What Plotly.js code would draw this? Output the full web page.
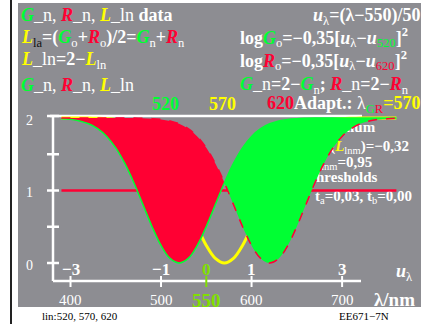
<!DOCTYPE html>
<html>
<head>
<meta charset="utf-8">
<script src="https://cdn.plot.ly/plotly-3.0.1.min.js"></script>
<style>html,body{margin:0;padding:0;background:#fff}#chart{width:424px;height:324px}</style>
</head>
<body>
<div id="chart"></div>
<script>
// wavelength grid (nm) and the three curves
var lam = [390,400,410,420,430,440,450,460,470,480,490,500,510,520,530,540,550,560,570,
           580,590,600,610,620,630,640,650,660,670,680,690,700,710,720,730,740,750,760];
var yG = [1.991,1.981,1.960,1.920,1.853,1.746,1.588,1.373,1.107,0.806,0.504,0.242,0.063,0.000,
          0.063,0.242,0.504,0.806,1.107,1.373,1.588,1.746,1.853,1.920,1.960,1.981,1.991,1.996,
          1.999,2.000,2.000,2.000,2.000,2.000,2.000,2.000,2.000,2.000];
var yR = [2.000,2.000,2.000,2.000,2.000,2.000,2.000,2.000,1.999,1.996,1.991,1.981,1.960,1.920,
          1.853,1.746,1.588,1.373,1.107,0.806,0.504,0.242,0.063,0.000,0.063,0.242,0.504,0.806,
          1.107,1.373,1.588,1.746,1.853,1.920,1.960,1.981,1.991,1.996];
var yL = [2.000,2.000,2.000,1.999,1.996,1.991,1.981,1.960,1.920,1.853,1.746,1.588,1.373,1.107,
          0.806,0.504,0.242,0.063,0.000,0.063,0.242,0.504,0.806,1.107,1.373,1.588,1.746,1.853,
          1.920,1.960,1.981,1.991,1.996,1.999,2.000,2.000,2.000,2.000];
var peaks = [520, 570, 620];
var lamTicks = [400, 500, 550, 600, 700];
var yTicks = [0, 1, 2];
var yMinor = [0.5, 1.5];
var notes = ['<b>Minimum</b>',
             '<b>log(<i><span style="color:#ffff00">L</span></i></b><sub>lnm</sub><b>)=−0,32</b>',
             '<b><i><span style="color:#ffff00">L</span></i></b><sub>lnm</sub><b>=0,95</b>',
             '<b>Thresholds</b>',
             '<b>t</b><sub>a</sub><b>=0,03, t</b><sub>b</sub><b>=0,00</b>'];

var GRN = '#00ff33', RED = '#ff0033', YEL = '#ffff00', LGR = '#80e000', WHT = '#ffffff';
var FONT = 'Liberation Serif, Times New Roman, serif';

// pixel -> data helpers (layout only)
function lx(px) { return 550 + (px - 206.3) / 0.9053; }
function ly(py) { return (263 - py) / 72.5; }
function c(col, s) { return '<span style="color:' + col + '">' + s + '</span>'; }
function bi(s) { return '<b><i>' + s + '</i></b>'; }
function sb(s, col) { return '<sub>' + c(col || WHT, s) + '</sub>'; }

var k = lam.indexOf(peaks[1]);
var lamA = lam.slice(0, k + 1), lamB = lam.slice(k);

var data = [{
    x: [lx(311), lx(311), lx(312), lx(306), lx(315)],
    y: [ly(128), ly(147), ly(163), ly(178), ly(197)],
    text: notes, mode: 'text', textposition: 'middle right',
    textfont: {family: FONT, size: 15, color: WHT}, hoverinfo: 'skip'
},{
    x: [lam[0], lam[lam.length - 1]], y: [1, 1], mode: 'lines',
    line: {color: RED, width: 2.5}, hoverinfo: 'skip'
},{
    x: lam, y: yL, mode: 'lines', line: {color: YEL, width: 3, shape: 'spline'}, hoverinfo: 'skip'
},{
    x: lamA, y: yR.slice(0, k + 1), mode: 'lines', line: {width: 0, shape: 'spline'}, hoverinfo: 'skip'
},{
    x: lamA, y: yG.slice(0, k + 1), mode: 'lines', line: {width: 0, shape: 'spline'},
    fill: 'tonexty', fillcolor: RED, hoverinfo: 'skip'
},{
    x: lamB, y: yG.slice(k), mode: 'lines', line: {width: 0, shape: 'spline'}, hoverinfo: 'skip'
},{
    x: lamB, y: yR.slice(k), mode: 'lines', line: {width: 0, shape: 'spline'},
    fill: 'tonexty', fillcolor: GRN, hoverinfo: 'skip'
},{
    x: lam, y: yG, mode: 'lines', line: {color: GRN, width: 1.5, shape: 'spline'}, hoverinfo: 'skip'
},{
    x: lam, y: yR, mode: 'lines', line: {color: RED, width: 1.5, dash: 'dash', shape: 'spline'}, hoverinfo: 'skip'
}];

var shapes = [
    {type: 'rect', xref: 'paper', yref: 'paper', x0: 18/424, x1: 421/424, y0: 1 - 307/324, y1: 1 - 3/324,
     fillcolor: '#8d8d92', line: {width: 0}, layer: 'below'},
    {type: 'line', xref: 'paper', yref: 'paper', x0: 11/424, x1: 11/424, y0: 0, y1: 1,
     line: {color: '#222', width: 2}, layer: 'below'},
    {type: 'line', x0: lx(53), x1: lx(53), y0: ly(281), y1: ly(116), line: {color: WHT, width: 2.5}, layer: 'below'},
    {type: 'line', x0: lx(53), x1: lx(361), y0: ly(281), y1: ly(281), line: {color: WHT, width: 2.5}, layer: 'below'},
    {type: 'line', x0: lx(50), x1: lx(362), y0: ly(116), y1: ly(116), line: {color: WHT, width: 2.5}, layer: 'below'}
];
yTicks.concat(yMinor).forEach(function(v) {
    var yy = v === 2 ? ly(116) : v;
    shapes.push({type: 'line', x0: lx(47), x1: lx(59), y0: yy, y1: yy, line: {color: WHT, width: 2.5}, layer: 'below'});
});
lamTicks.forEach(function(l) {
    shapes.push({type: 'line', x0: l, x1: l, y0: ly(276), y1: ly(287),
                 line: {color: l === 550 ? LGR : WHT, width: 2}, layer: 'below'});
});

function P(px, py, text, size, anchor, col) {
    return {xref: 'paper', yref: 'paper', x: px / 424, y: 1 - py / 324, text: text, showarrow: false,
            xanchor: anchor || 'left', yanchor: 'middle',
            font: {family: FONT, size: size, color: col || WHT}};
}

var ann = [
    P(19, 15, bi(c(GRN, 'G')) + '_n, ' + bi(c(RED, 'R')) + '_n, ' + bi(c(YEL, 'L')) + '_ln <b>data</b>', 18),
    P(19, 39, bi(c(YEL, 'L')) + sb('la', '#111') + '<b>=(</b>' + bi(c(GRN, 'G')) + sb('o') + '<b>+</b>' +
        bi(c(RED, 'R')) + sb('o') + '<b>)/2=</b>' + bi(c(GRN, 'G')) + sb('n') + '<b>+</b>' +
        bi(c(RED, 'R')) + sb('n'), 18),
    P(19, 61, bi(c(YEL, 'L')) + '_ln<b>=2−</b>' + bi(c(YEL, 'L')) + sb('ln'), 18),
    P(19, 85, bi(c(GRN, 'G')) + '_n, ' + bi(c(RED, 'R')) + '_n, ' + bi(c(YEL, 'L')) + '_ln', 18),
    P(422, 16, bi('u') + sb('λ') + '<b>=(λ−550)/50</b>', 18, 'right'),
    P(238, 38, '<b>log</b>' + bi(c(GRN, 'G')) + sb('o') + '<b>=−0,35[</b>' + bi('u') + sb('λ') + '<b>−</b>' +
        bi('u') + sb(peaks[0], GRN) + '<b>]</b><sup><b>2</b></sup>', 18),
    P(238, 61, '<b>log</b>' + bi(c(RED, 'R')) + sb('o') + '<b>=−0,35[</b>' + bi('u') + sb('λ') + '<b>−</b>' +
        bi('u') + sb(peaks[2], RED) + '<b>]</b><sup><b>2</b></sup>', 18),
    P(238, 85, bi(c(GRN, 'G')) + '_n<b>=2−</b>' + bi(c(GRN, 'G')) + sb('n') + '<b>; </b>' +
        bi(c(RED, 'R')) + '_n<b>=2−</b>' + bi(c(RED, 'R')) + sb('n'), 18),
    P(165, 104, '<b>' + peaks[0] + '</b>', 18, 'center', GRN),
    P(222, 104, '<b>' + peaks[1] + '</b>', 18, 'center', YEL),
    P(265, 104, '<b>' + c(RED, peaks[2]) + 'Adapt.: </b>λ<sub>' + c(GRN, 'G') + c(RED, 'R') + '</sub><b>' +
        c(YEL, '=' + peaks[1]) + '</b>', 18),
    P(40, 316, 'lin:' + peaks.join(', '), 11, 'left', '#000'),
    P(337, 316, 'EE671−7N', 11, 'left', '#000'),
    {x: lx(394), y: ly(299), text: '<b>λ/nm</b>', showarrow: false, font: {family: FONT, size: 19, color: WHT}},
    {x: lx(404), y: ly(272), text: bi('u') + sb('λ'), showarrow: false, font: {family: FONT, size: 18, color: WHT}}
];
yTicks.forEach(function(v) {
    ann.push({x: lx(29), y: v, yshift: -2, text: String(v), showarrow: false,
              font: {family: FONT, size: 14, color: WHT}});
});
lamTicks.forEach(function(l) {
    var u = (l - 550) / 50;
    ann.push({x: l, y: ly(269), text: '<b>' + String(u).replace('-', '−') + '</b>', showarrow: false,
              font: {family: FONT, size: 17, color: u === 0 ? LGR : WHT}});
    ann.push({x: l, y: ly(300), text: l === 550 ? '<b>550</b>' : String(l), showarrow: false,
              font: {family: FONT, size: l === 550 ? 19 : 15, color: l === 550 ? LGR : WHT}});
});

var layout = {
    width: 424, height: 324,
    margin: {l: 0, r: 0, t: 0, b: 0},
    paper_bgcolor: '#fff', plot_bgcolor: 'rgba(0,0,0,0)',
    showlegend: false,
    xaxis: {range: [lx(0), lx(424)], visible: false, fixedrange: true},
    yaxis: {range: [ly(324), ly(0)], visible: false, fixedrange: true},
    shapes: shapes,
    annotations: ann
};

Plotly.newPlot('chart', data, layout, {staticPlot: true, displayModeBar: false});
</script>
</body>
</html>
